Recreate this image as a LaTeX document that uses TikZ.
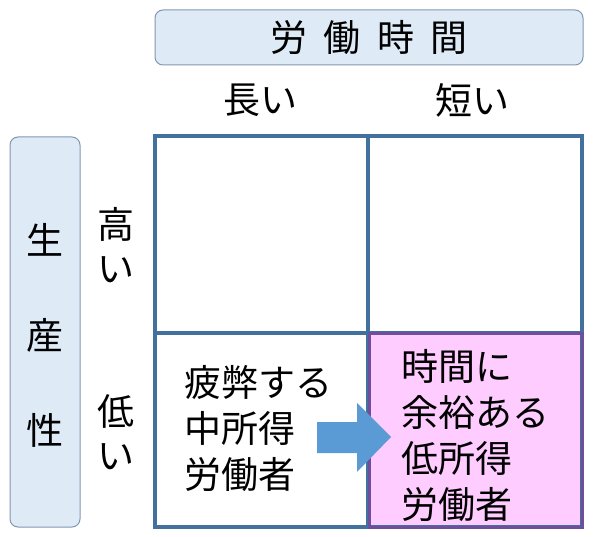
\documentclass[tikz,border=0pt]{standalone}
\usepackage{fontspec}
\setmainfont{Noto Sans CJK JP}
\definecolor{gridc}{HTML}{41719C}
\definecolor{hdrfill}{HTML}{DEEBF7}
\definecolor{hdrline}{HTML}{8497B0}
\definecolor{pinkc}{HTML}{FFCCFF}
\definecolor{pinkline}{HTML}{6F4E9C}
\definecolor{arrowc}{HTML}{5B9BD5}
\tikzset{
 big/.style={font=\fontsize{37}{44}\selectfont, inner sep=0pt},
 cell/.style={font=\fontsize{37}{46}\selectfont, align=left, inner sep=0pt},
 hdr/.style={draw=hdrline, fill=hdrfill, rounded corners=8pt, line width=1pt}
}
\begin{document}
\begin{tikzpicture}[x=1pt,y=-1pt]
\useasboundingbox (0,0) rectangle (600,537);
\draw[hdr] (155,10) rectangle (583,65);
\node[big] (t) at (369,38) {労\hspace{0.45em}働\hspace{0.45em}時\hspace{0.45em}間};
\draw[hdr] (10,137) rectangle (80,527);
\node[big] (s1) at (45,240) {生};
\node[big] (s2) at (45,335) {産};
\node[big] (s3) at (45,430) {性};
\node[big] (l1) at (260,100) {長い};
\node[big] (l2) at (472,100) {短い};
\node[big, align=center] (h1) at (116,245) {高\\い};
\node[big, align=center] (h2) at (116,432) {低\\い};
\fill[pinkc] (368,333) rectangle (582,527);
\draw[gridc, line width=4pt] (155,136) rectangle (582,527);
\draw[gridc, line width=4pt] (368,136) -- (368,527) (155,333) -- (582,333);
\draw[pinkline, line width=3pt] (369,334) rectangle (582,527);
\node[cell, anchor=west] (c1) at (184,429) {疲弊する\\中所得\\労働者};
\node[cell, anchor=west] (c2) at (401,436) {時間に\\余裕ある\\低所得\\労働者};
\fill[arrowc] (317,422) -- (357,422) -- (357,403) -- (391,437) -- (357,472) -- (357,453) -- (317,453) -- cycle;
\end{tikzpicture}
\end{document}
